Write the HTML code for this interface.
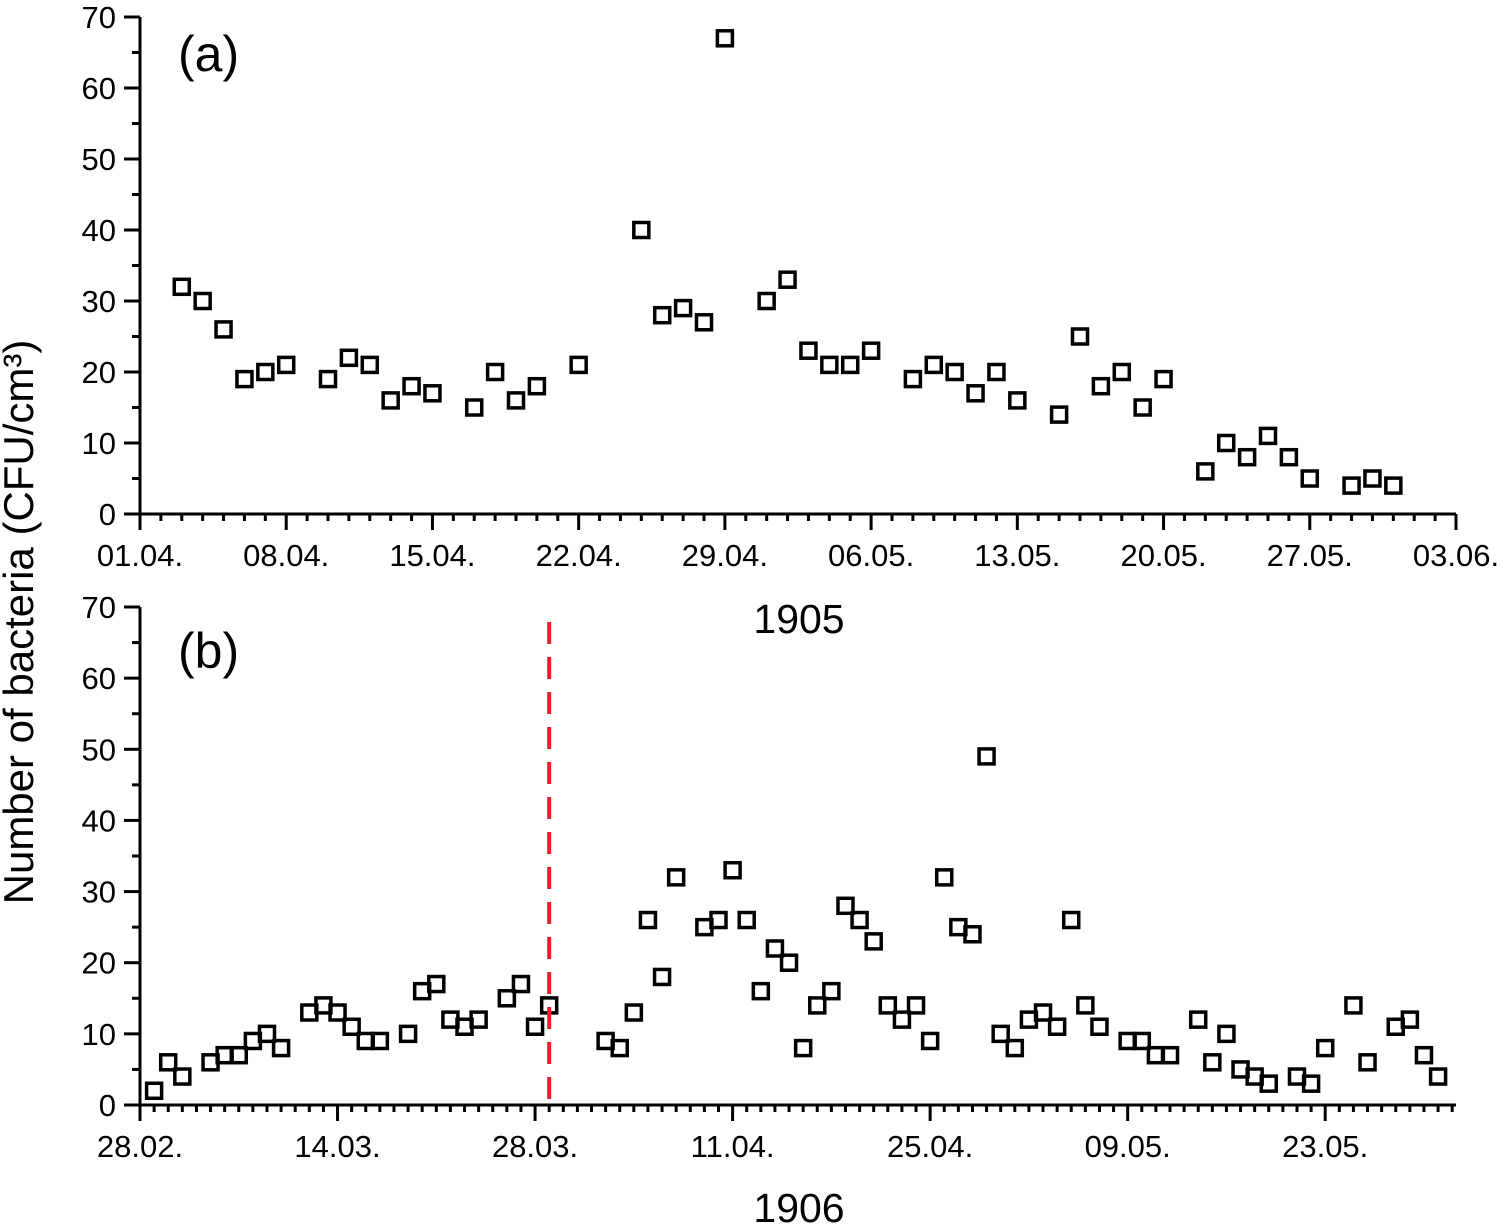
<!DOCTYPE html>
<html><head><meta charset="utf-8"><style>
html,body{margin:0;padding:0;background:#fff}
svg{display:block;font-family:"Liberation Sans",Arial,sans-serif}
</style></head><body>
<svg id="chart" width="1500" height="1224" viewBox="0 0 1500 1224" xmlns="http://www.w3.org/2000/svg">
<text x="0" y="0" transform="translate(33,622) rotate(-90)" text-anchor="middle" font-size="42">Number of bacteria (CFU/cm³)</text>
<text x="178" y="71" font-size="50">(a)</text>
<text x="178" y="668" font-size="50">(b)</text>
<text x="799" y="633" text-anchor="middle" font-size="41">1905</text>
<text x="799" y="1222" text-anchor="middle" font-size="41">1906</text>
</svg>
<script>
// Panel (a): days since 01.04.1905
const daysA = [2,3,4,5,6,7,9,10,11,12,13,14,16,17,18,19,21,24,25,26,27,28,30,31,32,33,34,35,37,38,39,40,41,42,44,45,46,47,48,49,51,52,53,54,55,56,58,59,60];
const valsA = [32,30,26,19,20,21,19,22,21,16,18,17,15,20,16,18,21,40,28,29,27,67,30,33,23,21,21,23,19,21,20,17,20,16,14,25,18,20,15,19,6,10,8,11,8,5,4,5,4];
const tickLabelsA = ["01.04.","08.04.","15.04.","22.04.","29.04.","06.05.","13.05.","20.05.","27.05.","03.06."];
// Panel (b): days since 28.02.1906
const daysB = [1,2,3,5,6,7,8,9,10,12,13,14,15,16,17,19,20,21,22,23,24,26,27,28,29,33,34,35,36,37,38,40,41,42,43,44,45,46,47,48,49,50,51,52,53,54,55,56,57,58,59,60,61,62,63,64,65,66,67,68,70,71,72,73,75,76,77,78,79,80,82,83,84,86,87,89,90,91,92];
const valsB = [2,6,4,6,7,7,9,10,8,13,14,13,11,9,9,10,16,17,12,11,12,15,17,11,14,9,8,13,26,18,32,25,26,33,26,16,22,20,8,14,16,28,26,23,14,12,14,9,32,25,24,49,10,8,12,13,11,26,14,11,9,9,7,7,12,6,10,5,4,3,4,3,8,14,6,11,12,7,4];
const tickLabelsB = ["28.02.","14.03.","28.03.","11.04.","25.04.","09.05.","23.05."];
const yTicks = [0,10,20,30,40,50,60,70];
const markerDay = 29;

const NS="http://www.w3.org/2000/svg";
const svg=document.getElementById('chart');
function mk(tag,attrs,parent){const e=document.createElementNS(NS,tag);for(const k in attrs)e.setAttribute(k,attrs[k]);(parent||svg).appendChild(e);return e;}

function panel(cfg){
  const {name,x0,x1,y0,y1,dMax,majorStep,labels,days,vals}=cfg;
  const g=mk('g',{});
  
  
  const sx=d=>x0+(x1-x0)*d/dMax;
  const sy=v=>y0+(y1-y0)*v/70;
  const xa=mk('line',{x1:x0-16,y1:y0,x2:x1,y2:y0,stroke:'#000','stroke-width':3},g);
  
  
  const ya=mk('line',{x1:x0,y1:y0+16,x2:x0,y2:y1,stroke:'#000','stroke-width':3},g);
  
  
  for(let v=0;v<=70;v+=5){
    const major=v%10===0;
    mk('line',{x1:x0-(major?16:8),y1:sy(v),x2:x0,y2:sy(v),stroke:'#000','stroke-width':3},g);
  }
  yTicks.forEach(v=>{
    const t=mk('text',{x:x0-24,y:sy(v)+11,'text-anchor':'end','font-size':31},g);
    
    
    t.textContent=v;
  });
  for(let d=0;d<=Math.floor(dMax);d++){
    const major=d%majorStep===0;
    mk('line',{x1:sx(d),y1:y0,x2:sx(d),y2:y0+(major?16:7),stroke:'#000','stroke-width':3},g);
  }
  labels.forEach((l,i)=>{
    const t=mk('text',{x:sx(i*majorStep),y:y0+52,'text-anchor':'middle','font-size':31},g);
    
    
    t.textContent=l;
  });
  days.forEach((d,i)=>{
    const r=mk('rect',{x:sx(d)-7.5,y:sy(vals[i])-7.5,width:15,height:15,fill:'none',stroke:'#000','stroke-width':3.5},g);
    
    
  });
  return {sx,sy,g};
}
panel({name:'panel-a',x0:140,x1:1456,y0:514,y1:17,dMax:63,majorStep:7,labels:tickLabelsA,days:daysA,vals:valsA});
const pb=panel({name:'panel-b',x0:140,x1:1456,y0:1105,y1:607,dMax:93.27,majorStep:14,labels:tickLabelsB,days:daysB,vals:valsB});
const dl=mk('line',{x1:pb.sx(markerDay),y1:622,x2:pb.sx(markerDay),y2:1105,stroke:'#e8202a','stroke-width':4,'stroke-dasharray':'22,13'},pb.g);


</script>
</body></html>
